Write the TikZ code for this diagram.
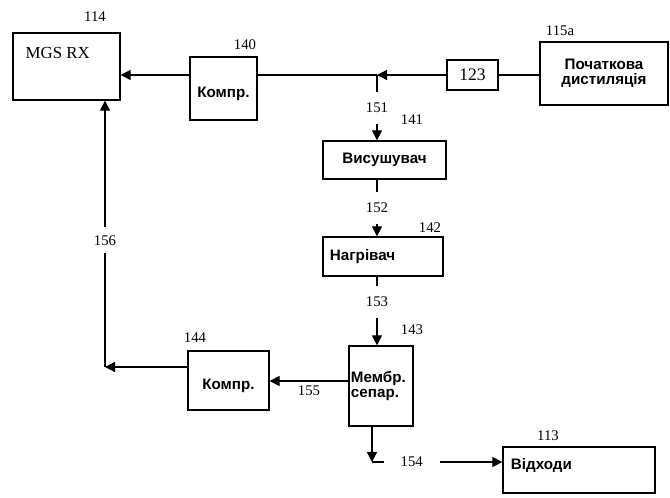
\documentclass[tikz,border=0pt]{standalone}
\usepackage{fontspec}
\setmainfont{Liberation Serif}
\newfontfamily\boxfont{Liberation Sans}
\usetikzlibrary{arrows.meta}
\tikzset{
  >={Triangle[length=2.5mm,width=2.5mm]},
  % --- nodes
  unit/.style  = {draw, line width=0.9pt, inner sep=2pt, align=center,
                  font=\boxfont\bfseries\fontsize{10.8}{11}\selectfont},
  num/.style   = {font=\fontsize{10.5}{12}\selectfont, inner sep=1pt},
  gapv/.style  = {num, fill=white, inner ysep=0.28cm},
  gaph/.style  = {num, fill=white, inner xsep=0.42cm},
  % --- edges
  flow/.style  = {line width=0.9pt},
}
\begin{document}
\begin{tikzpicture}[x=0.025cm,y=-0.025cm]
  \useasboundingbox (0,0) rectangle (670,498);

  % units
  \node[unit, minimum width=2.675cm, minimum height=1.675cm] (mgs) at (66.5,66.5) {};
  \node[num, anchor=west, font=\fontsize{12}{14}\selectfont] (mgsname) at (24,53) {MGS RX};
  \node[unit, minimum width=1.675cm, minimum height=1.575cm, text height=15pt, text depth=2pt] (comp1) at (223.5,88.5) {Компр.};
  \node[unit, minimum width=1.275cm, minimum height=0.75cm, font=\fontsize{12.5}{14}\selectfont] (b123) at (472.5,75) {123};
  \node[unit, minimum width=3.2cm, minimum height=1.575cm] (dist) at (604,73.5) {Початкова\\дистиляція};
  \node[unit, minimum width=3.075cm, minimum height=0.95cm] (dry) at (384.5,160) {Висушувач};
  \node[unit, minimum width=3.0cm, minimum height=0.975cm, inner xsep=0.175cm, text width=2.65cm, align=left] (heat) at (383,256.5) {Нагрівач};
  \node[unit, minimum width=1.6cm, minimum height=2.0cm, inner xsep=0.05cm, text width=1.5cm, align=left] (memb) at (381,386) {Мембр.\\сепар.};
  \node[unit, minimum width=2.025cm, minimum height=1.475cm, text height=15pt, text depth=2pt] (comp2) at (228.5,380.5) {Компр.};
  \node[unit, minimum width=3.8cm, minimum height=1.15cm, inner xsep=0.2cm, text width=3.4cm, align=left, text depth=9pt] (waste) at (579,470) {Відходи};

  % reference numbers
  \node[num] (n114) at (95,17) {114};
  \node[num] (n140) at (245,45) {140};
  \node[num] (n115a) at (560,31) {115a};
  \node[num] (n141) at (412,120) {141};
  \node[num] (n142) at (430,228) {142};
  \node[num] (n143) at (412,330) {143};
  \node[num] (n144) at (195,338) {144};
  \node[num] (n113) at (548,436) {113};

  \coordinate (j151) at (377,75);
  \coordinate (c156) at (105,367);
  \coordinate (c154) at (372,462);
  \coordinate (c155) at (349,381);

  % flows
  \draw[flow] (b123.east) -- (b123.east -| dist.west);
  \draw[flow,->] (b123.west) -- (j151);
  \draw[flow] (j151) -- (comp1.east |- j151);
  \draw[flow,->] (comp1.west |- j151) -- (mgs.east |- j151);
  \draw[flow,->] (j151) -- node[gapv] {151} (dry.north -| j151);
  \draw[flow,->] (dry.south -| j151) -- node[gapv] {152} (heat.north -| j151);
  \draw[flow,->] (heat.south -| j151) -- node[gapv, pos=0.37] {153} (memb.north -| j151);
  \draw[flow,->] (memb.west |- c155) -- node[num, below=2pt] {155} (comp2.east |- c155);
  \draw[flow,->] (comp2.west |- c156) -- (c156);
  \draw[flow,->] (c156) -- node[gapv, inner ysep=0.2cm, pos=0.476] {156} (c156 |- mgs.south);
  \draw[flow,->] (memb.south -| c154) -- (c154);
  \draw[flow,->] (c154) -- node[gaph, pos=0.305] {154} (c154 -| waste.west);
\end{tikzpicture}
\end{document}
